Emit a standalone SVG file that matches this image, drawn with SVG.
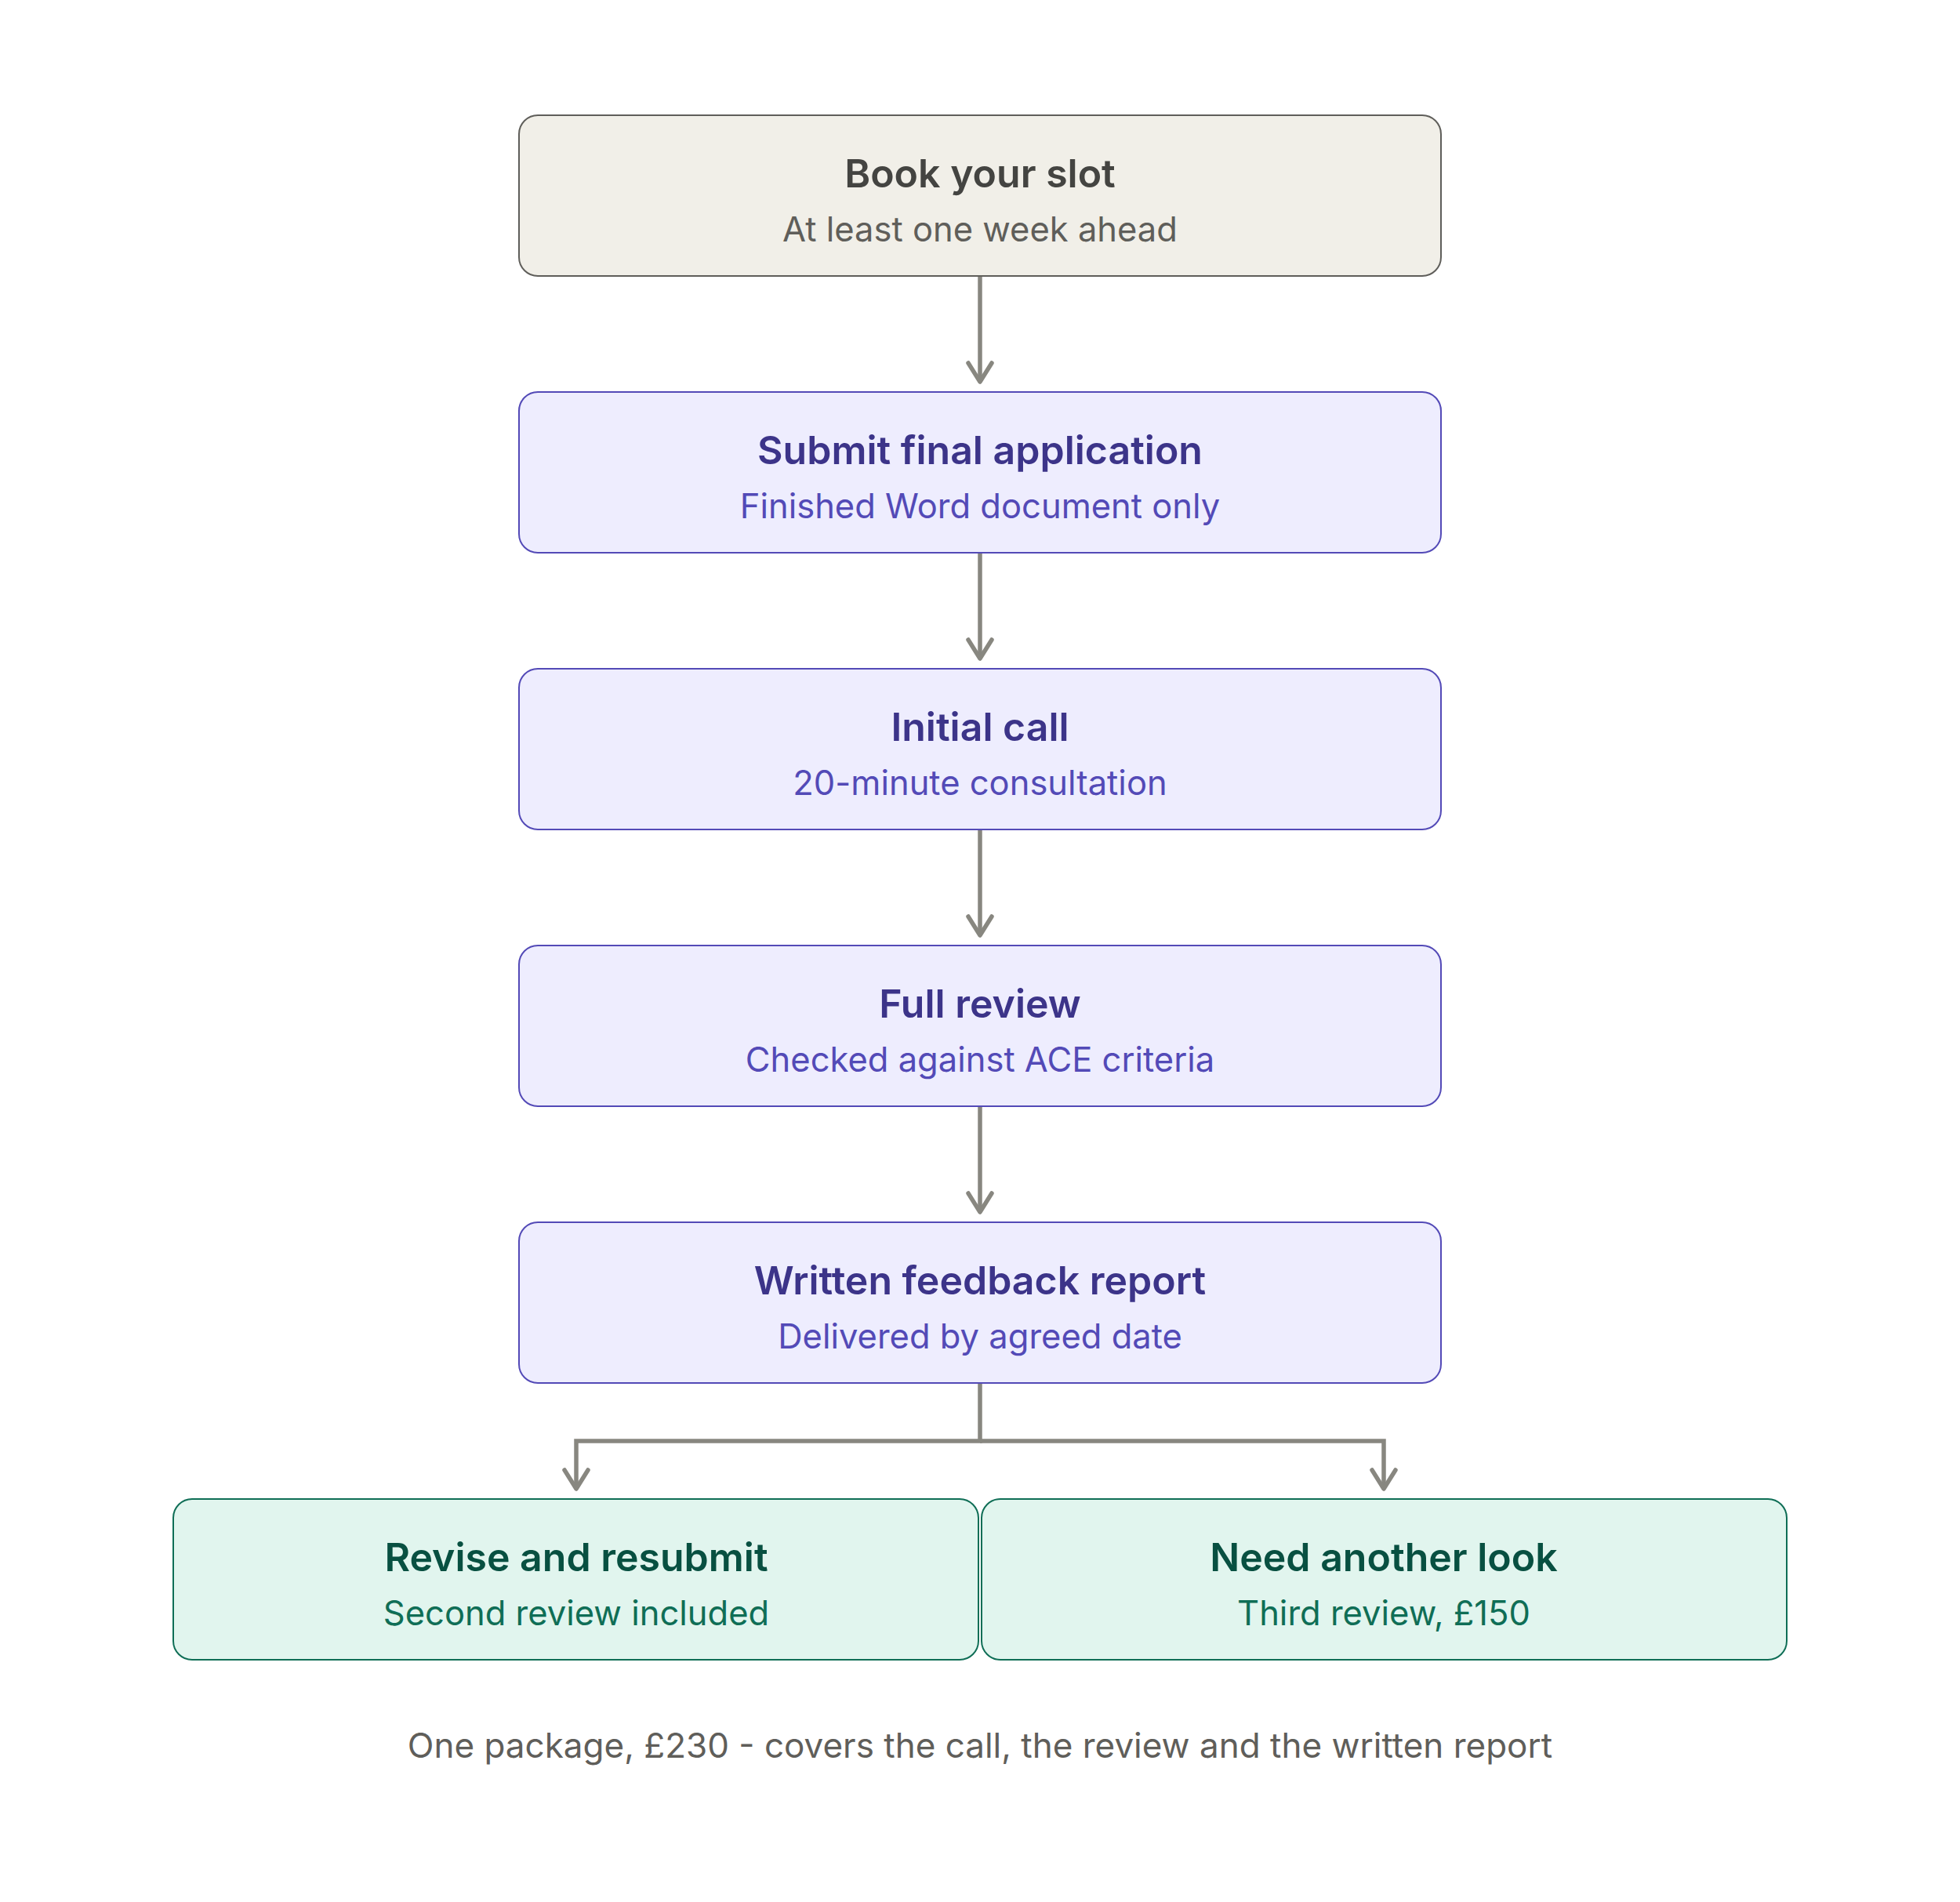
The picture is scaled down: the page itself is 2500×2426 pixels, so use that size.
<svg xmlns="http://www.w3.org/2000/svg" width="2500" height="2426" viewBox="0 0 2500 2426">
  <style>
    .t { font-family: Inter, "Noto Sans", "Liberation Sans", sans-serif; font-size: 50px; font-weight: 600; text-anchor: middle; }
    .s { font-family: Inter, "Noto Sans", "Liberation Sans", sans-serif; font-size: 43.5px; font-weight: 400; text-anchor: middle; }
    .grey rect { fill: #f1efe8; stroke: #5f5e5a; stroke-width: 2; }
    .grey .t { fill: #444441; }
    .grey .s { fill: #5f5e5a; }
    .purple rect { fill: #eeedfe; stroke: #534ab7; stroke-width: 2; }
    .purple .t { fill: #3c3489; }
    .purple .s { fill: #534ab7; }
    .green rect { fill: #e1f5ee; stroke: #0f6e56; stroke-width: 2; }
    .green .t { fill: #085041; }
    .green .s { fill: #0f6e56; }
    .conn { fill: none; stroke: #888780; stroke-width: 5.5; stroke-linejoin: miter; }
    .foot { font-family: Inter, "Noto Sans", "Liberation Sans", sans-serif; font-size: 44px; fill: #5f5e5a; text-anchor: middle; }
  </style>
  <defs>
    <marker id="arrow" markerUnits="userSpaceOnUse" viewBox="-30 -20 40 40" refX="0" refY="0" markerWidth="40" markerHeight="40" orient="auto" overflow="visible">
      <path d="M-24,-15 L0,0 L-24,15" fill="none" stroke="#888780" stroke-width="5.5" stroke-linecap="round" stroke-linejoin="round"/>
    </marker>
  </defs>
  <rect width="2500" height="2426" fill="#ffffff"/>

  <g id="connectors">
    <path class="conn" d="M1250,352 L1250,487" marker-end="url(#arrow)"/>
    <path class="conn" d="M1250,705 L1250,840" marker-end="url(#arrow)"/>
    <path class="conn" d="M1250,1058 L1250,1193" marker-end="url(#arrow)"/>
    <path class="conn" d="M1250,1411 L1250,1546" marker-end="url(#arrow)"/>
    <path class="conn" d="M1250,1764 L1250,1838 L735,1838 L735,1899" marker-end="url(#arrow)"/>
    <path class="conn" d="M1250,1838 L1765,1838 L1765,1899" marker-end="url(#arrow)"/>
  </g>

  <g id="node-book" class="grey">
    <rect x="662" y="147" width="1176" height="205" rx="24"/>
    <text class="t" x="1250" y="239">Book your slot</text>
    <text class="s" x="1250" y="308">At least one week ahead</text>
  </g>
  <g id="node-submit" class="purple">
    <rect x="662" y="500" width="1176" height="205" rx="24"/>
    <text class="t" x="1250" y="592">Submit final application</text>
    <text class="s" x="1250" y="661">Finished Word document only</text>
  </g>
  <g id="node-call" class="purple">
    <rect x="662" y="853" width="1176" height="205" rx="24"/>
    <text class="t" x="1250" y="945">Initial call</text>
    <text class="s" x="1250" y="1014">20-minute consultation</text>
  </g>
  <g id="node-review" class="purple">
    <rect x="662" y="1206" width="1176" height="205" rx="24"/>
    <text class="t" x="1250" y="1298">Full review</text>
    <text class="s" x="1250" y="1367">Checked against ACE criteria</text>
  </g>
  <g id="node-report" class="purple">
    <rect x="662" y="1559" width="1176" height="205" rx="24"/>
    <text class="t" x="1250" y="1651">Written feedback report</text>
    <text class="s" x="1250" y="1720">Delivered by agreed date</text>
  </g>
  <g id="node-revise" class="green">
    <rect x="221" y="1912" width="1027" height="205" rx="24"/>
    <text class="t" x="735" y="2004">Revise and resubmit</text>
    <text class="s" x="735" y="2073">Second review included</text>
  </g>
  <g id="node-another" class="green">
    <rect x="1252" y="1912" width="1027" height="205" rx="24"/>
    <text class="t" x="1765" y="2004">Need another look</text>
    <text class="s" x="1765" y="2073">Third review, £150</text>
  </g>

  <text class="foot" x="1250" y="2242">One package, £230 - covers the call, the review and the written report</text>
</svg>
